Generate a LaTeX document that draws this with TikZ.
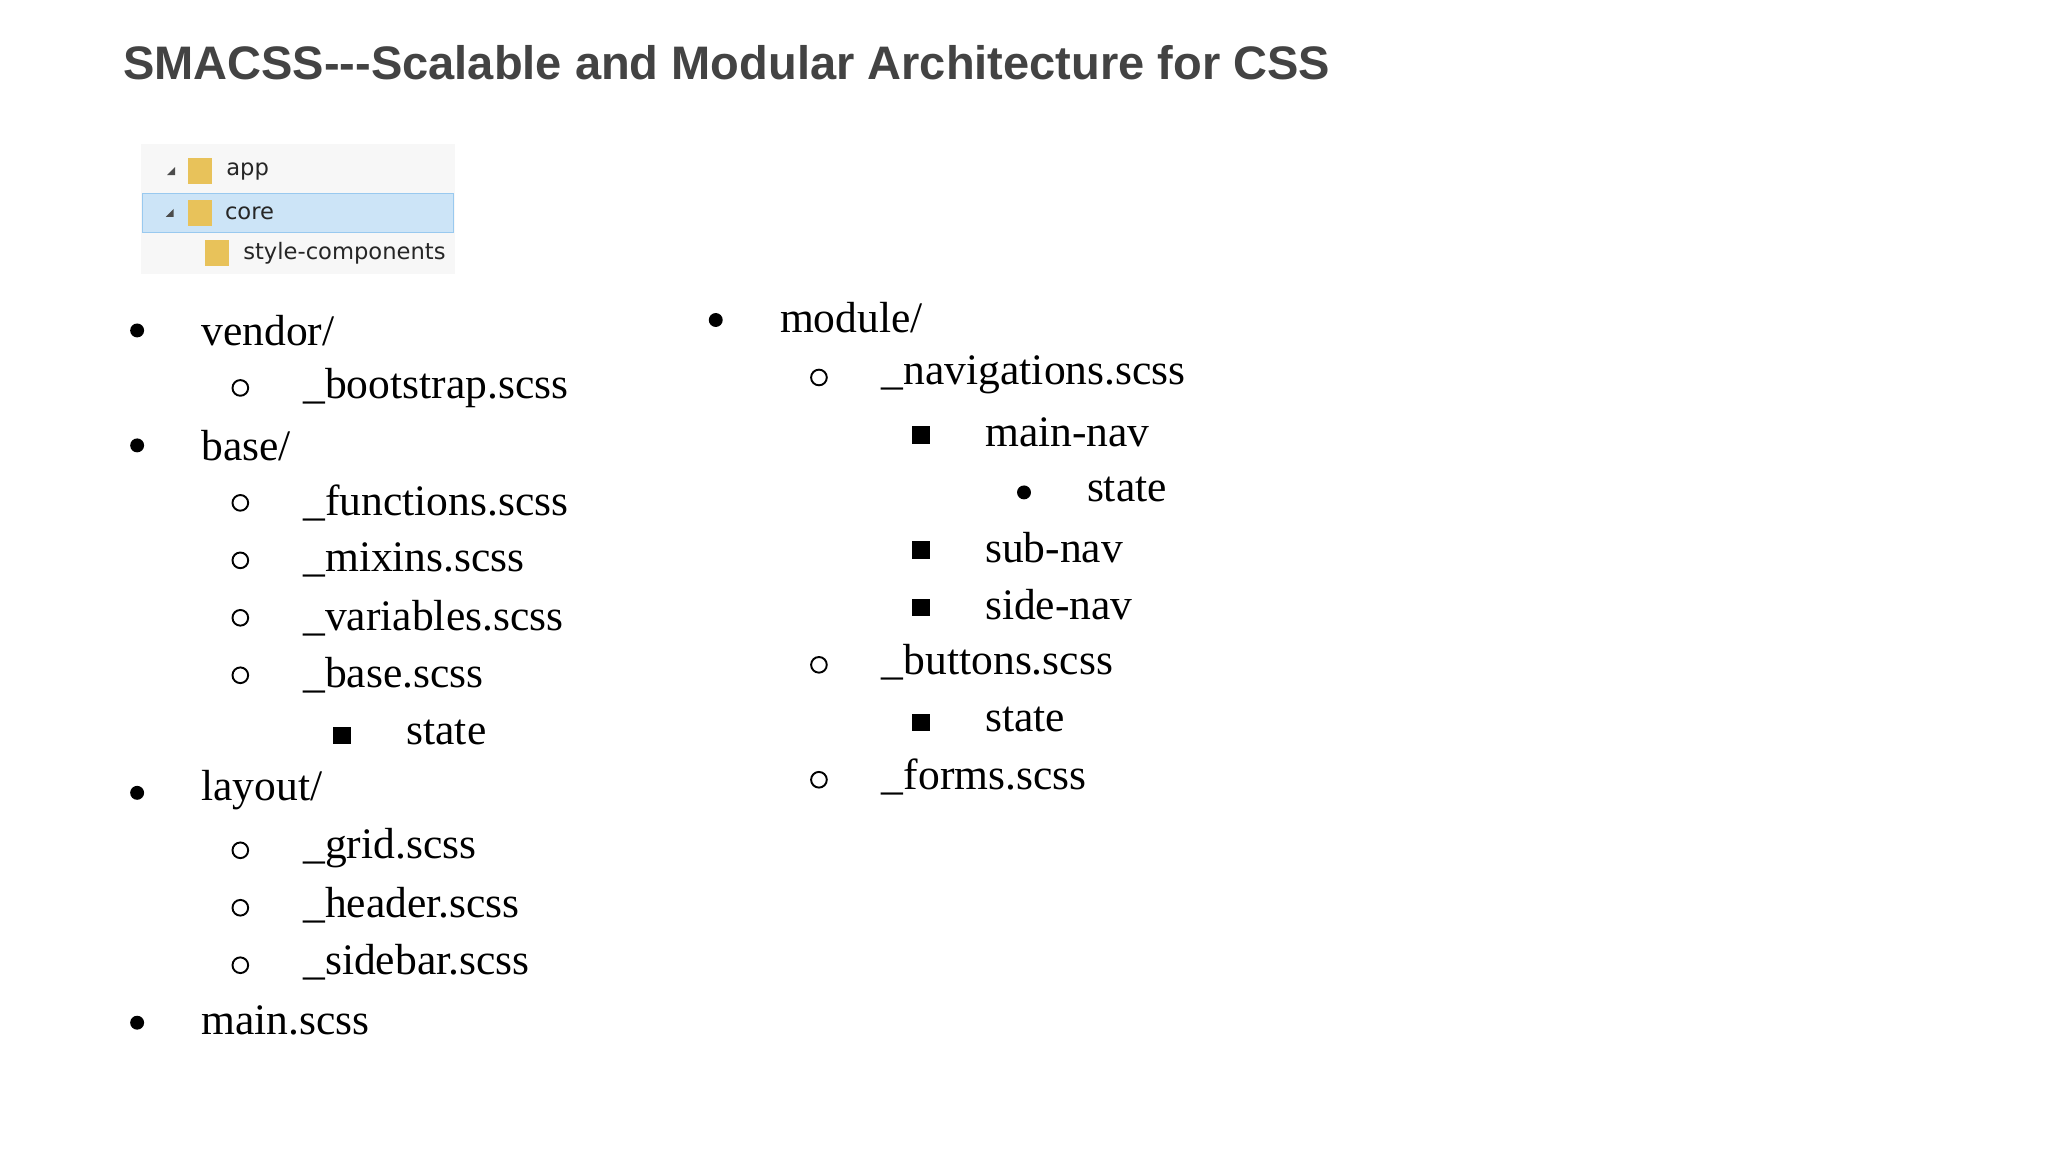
\documentclass[tikz,border=0pt]{standalone}
\usepackage{fontspec}
\setmainfont{Liberation Serif}
\newfontfamily\titlefont{Liberation Sans}
\newfontfamily\uifont{DejaVu Sans}
\usepackage{tikz}
\definecolor{titlegray}{HTML}{434343}
\definecolor{selblue}{HTML}{CCE4F7}
\definecolor{selline}{HTML}{99C9EF}
\definecolor{folderyellow}{HTML}{E8C25A}
\begin{document}
\begin{tikzpicture}[x=0.75pt, y=-0.75pt]
      \tikzstyle{item} = [anchor=west, inner sep=0pt, font=\fontsize{25}{28}\selectfont]
      \tikzstyle{dot} = [circle, fill=black, inner sep=0pt, minimum size=8pt]
      \tikzstyle{ring} = [circle, draw=black, line width=1.1pt, inner sep=0pt, minimum size=9pt]
      \tikzstyle{sq} = [rectangle, fill=black, inner sep=0pt, minimum size=10pt]
      \tikzstyle{tree} = [anchor=west, inner sep=0pt, font=\uifont\fontsize{13}{15}\selectfont, text=black!85]
      \tikzstyle{folder} = [rectangle, fill=folderyellow, inner sep=0pt, minimum width=14pt, minimum height=15pt]
      \tikzstyle{tri} = [isosceles triangle, fill=black!70, inner sep=0pt, minimum size=5pt, shape border rotate=45]
      \fill[white] (0,0) rectangle (1568,882);
      \useasboundingbox (0,0) rectangle (1568,882);
      \node[anchor=west, inner sep=0pt, text=titlegray, font=\titlefont\bfseries\fontsize{27}{30}\selectfont] (title) at (94,48) {SMACSS---Scalable and Modular Architecture for CSS};
      % folder tree
      \fill[black!3] (108,110) rectangle (348,210);
      \draw[selline, fill=selblue] (109,148) rectangle (347,178);
      \node[folder] (f1) at (153,131) {};
      \node[folder] (f2) at (153,163) {};
      \node[folder] (f3) at (166,194) {};
      \fill[black!70] (128,134) -- (134,128) -- (134,134) -- cycle;
      \fill[black!70] (127,166) -- (133,160) -- (133,166) -- cycle;
      \node[tree] (app) at (173,131) {app};
      \node[tree] (core) at (172,163) {core};
      \node[tree] (comp) at (186,194) {style-components};
      % left column
      \node[dot] (b1) at (105,253) {};  \node[item] (vendor) at (154,253) {vendor/};
      \node[ring] (b2) at (184,297) {}; \node[item] (bootstrap) at (232,297) {\_bootstrap.scss};
      \node[dot] (b3) at (105,341) {};  \node[item] (base) at (154,341) {base/};
      \node[ring] (b4) at (184,385) {}; \node[item] (functions) at (232,385) {\_functions.scss};
      \node[ring] (b5) at (184,429) {}; \node[item] (mixins) at (232,429) {\_mixins.scss};
      \node[ring] (b6) at (184,473) {}; \node[item] (variables) at (232,473) {\_variables.scss};
      \node[ring] (b7) at (184,517) {}; \node[item] (basescss) at (232,517) {\_base.scss};
      \node[sq] (b8) at (262,563) {};   \node[item] (basestate) at (311,561) {state};
      \node[dot] (b9) at (105,607) {};  \node[item] (layout) at (154,605) {layout/};
      \node[ring] (b10) at (184,651) {}; \node[item] (grid) at (232,649) {\_grid.scss};
      \node[ring] (b11) at (184,695) {}; \node[item] (header) at (232,693) {\_header.scss};
      \node[ring] (b12) at (184,739) {}; \node[item] (sidebar) at (232,737) {\_sidebar.scss};
      \node[dot] (b13) at (105,783) {}; \node[item] (mainscss) at (154,781) {main.scss};
      % right column
      \node[dot] (c1) at (548,245) {};  \node[item] (module) at (597,243) {module/};
      \node[ring] (c2) at (627,289) {}; \node[item] (navigations) at (675,287) {\_navigations.scss};
      \node[sq] (c3) at (705,333) {};   \node[item] (mainnav) at (754,331) {main-nav};
      \node[dot] (c4) at (784,377) {};  \node[item] (navstate) at (832,375) {state};
      \node[sq] (c5) at (705,421) {};   \node[item] (subnav) at (754,419) {sub-nav};
      \node[sq] (c6) at (705,465) {};   \node[item] (sidenav) at (754,463) {side-nav};
      \node[ring] (c7) at (627,509) {}; \node[item] (buttons) at (675,507) {\_buttons.scss};
      \node[sq] (c8) at (705,553) {};   \node[item] (btnstate) at (754,551) {state};
      \node[ring] (c9) at (627,597) {}; \node[item] (forms) at (675,595) {\_forms.scss};
\end{tikzpicture}
\end{document}
